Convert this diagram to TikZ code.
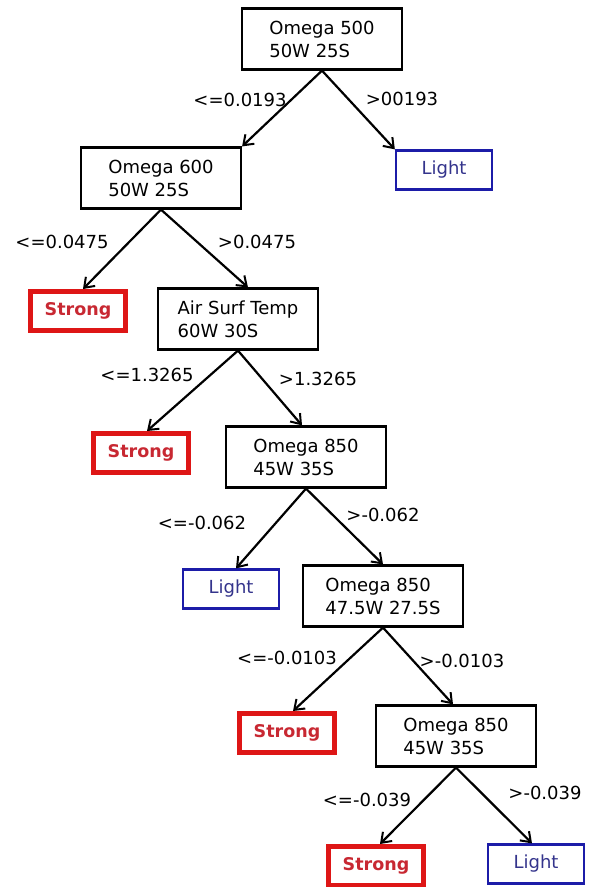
\documentclass[tikz,border=0pt]{standalone}
\usepackage{fontspec}
\setmainfont{DejaVu Sans}
\usepackage{xcolor}
\definecolor{strongred}{RGB}{222,22,22}
\definecolor{strongtext}{RGB}{200,40,50}
\definecolor{lightblue}{RGB}{28,28,168}
\definecolor{lighttext}{RGB}{52,52,140}
\usepackage{tikz}
\usetikzlibrary{arrows.meta}

\begin{document}
\begin{tikzpicture}[x=1pt,y=-1pt,
    font=\fontsize{18}{23}\selectfont,
    splitbox/.style={draw, line width=2.2pt, minimum width=160pt, minimum height=61pt, align=left, inner sep=0pt},
    strongleaf/.style={draw=strongred, line width=5pt, minimum width=95pt, minimum height=39pt, text=strongtext, font=\fontsize{17.5}{23}\selectfont\bfseries},
    lightleaf/.style={draw=lightblue, line width=2.3pt, minimum width=96pt, minimum height=39pt, text=lighttext},
    branch/.style={line width=2.2pt, -{Straight Barb[length=9pt,width=13pt,line width=2pt]}}]
      \useasboundingbox (0,0) rectangle (590,887);
      \node[splitbox] (o500) at (322,39) {Omega 500\\50W 25S};
      \node[splitbox] (o600) at (161,178) {Omega 600\\50W 25S};
      \node[lightleaf] (light1) at (444,170) {Light};
      \node[strongleaf] (strong1) at (78,311) {Strong};
      \node[splitbox] (airsurf) at (238,319) {Air Surf Temp\\60W 30S};
      \node[strongleaf] (strong2) at (141,453) {Strong};
      \node[splitbox] (o850a) at (306,457) {Omega 850\\45W 35S};
      \node[lightleaf] (light2) at (231,589) {Light};
      \node[splitbox] (o850b) at (383,596) {Omega 850\\47.5W 27.5S};
      \node[strongleaf] (strong3) at (287,733) {Strong};
      \node[splitbox] (o850c) at (456,736) {Omega 850\\45W 35S};
      \node[strongleaf] (strong4) at (376,866) {Strong};
      \node[lightleaf] (light3) at (536,864) {Light};
      \node (c1) at (240,100) {<=0.0193};
      \node (c2) at (402,99) {>00193};
      \node (c3) at (62,242) {<=0.0475};
      \node (c4) at (257,242) {>0.0475};
      \node (c5) at (147,375) {<=1.3265};
      \node (c6) at (318,379) {>1.3265};
      \node (c7) at (202,523) {<=-0.062};
      \node (c8) at (383,515) {>-0.062};
      \node (c9) at (287,658) {<=-0.0103};
      \node (c10) at (462,661) {>-0.0103};
      \node (c11) at (367,800) {<=-0.039};
      \node (c12) at (545,793) {>-0.039};
      \draw[branch] (o500.south) -- (o600.north east);
      \draw[branch] (o500.south) -- (light1.north west);
      \draw[branch] (o600.south) -- ([xshift=5pt]strong1.north);
      \draw[branch] (o600.south) -- ([xshift=10pt]airsurf.north);
      \draw[branch] (airsurf.south) -- ([xshift=6pt]strong2.north);
      \draw[branch] (airsurf.south) -- ([xshift=-4pt]o850a.north);
      \draw[branch] (o850a.south) -- ([xshift=5pt]light2.north);
      \draw[branch] (o850a.south) -- (o850b.north);
      \draw[branch] (o850b.south) -- ([xshift=6pt]strong3.north);
      \draw[branch] (o850b.south) -- ([xshift=-3pt]o850c.north);
      \draw[branch] (o850c.south) -- ([xshift=4pt]strong4.north);
      \draw[branch] (o850c.south) -- ([xshift=-4pt]light3.north);
    \end{tikzpicture}
\end{document}
